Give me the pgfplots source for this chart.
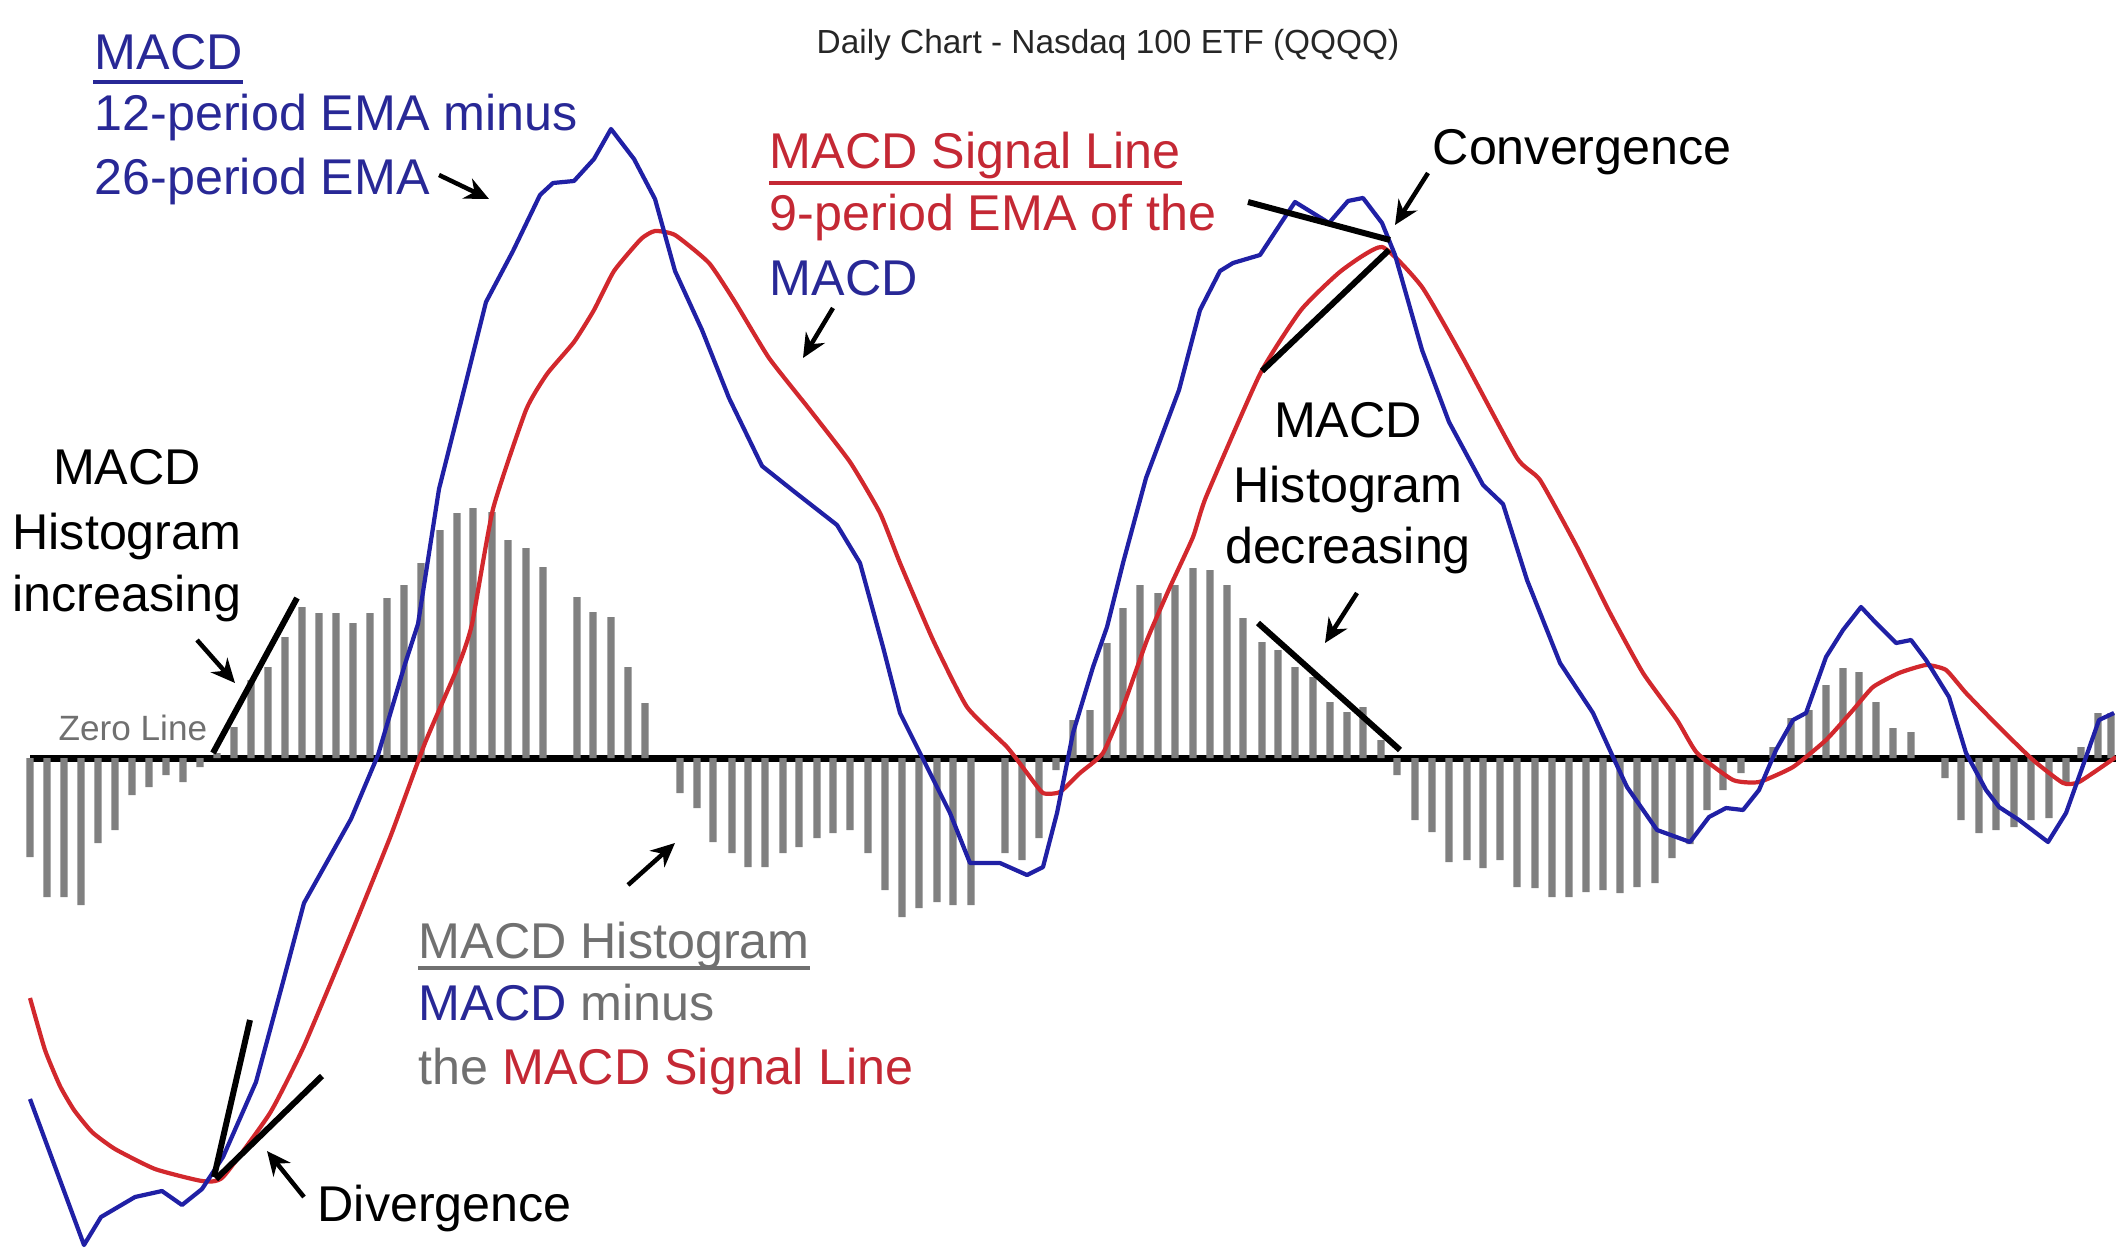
\documentclass[border=0pt]{standalone}
\usepackage{pgfplots}
\pgfplotsset{compat=1.18}
\usepackage{fontspec}
\setmainfont{Liberation Sans}
\setsansfont{Liberation Sans}
\usetikzlibrary{arrows.meta}
\definecolor{macdline}{RGB}{32,32,165}
\definecolor{sigline}{RGB}{210,40,45}
\definecolor{macdtext}{RGB}{40,40,150}
\definecolor{sigtext}{RGB}{196,40,52}
\definecolor{histtext}{RGB}{112,112,112}
\definecolor{barcol}{RGB}{128,128,128}
\newcommand\bigf{\fontsize{14.3}{17}\selectfont}
\begin{document}
\begin{tikzpicture}
\begin{axis}[width=21.16cm, height=12.48cm, scale only axis,
  xmin=0, xmax=2116, ymin=-490, ymax=758, hide axis, clip=false]
\coordinate (sw) at (axis cs:0,-490);
\coordinate (ne) at (axis cs:2116,758);
% zero line
\draw[black, line width=0.7mm] (axis cs:30,0) -- (axis cs:2116,0);
% histogram
\addplot[ybar, bar width=0.72mm, bar shift=0pt, fill=barcol, draw=none] coordinates {
(30,-99) (47,-139) (64,-139) (81,-147) (98,-85) (115,-72) (132,-37) (149,-29)
(166,-17) (183,-24) (200,-9) (217,5) (234,31) (251,78) (268,91) (285,121)
(302,151) (319,145) (336,145) (353,135) (370,145) (387,160) (404,173) (421,195)
(440,228) (457,245) (473,250) (492,246) (508,218) (526,210) (543,191)
(577,161) (593,146) (611,141) (628,91) (645,55)
(680,-35) (697,-50) (713,-84) (732,-95) (748,-109) (765,-109) (783,-95) (799,-89)
(817,-80) (833,-75) (850,-72) (868,-95) (885,-132) (902,-159) (919,-150) (937,-144)
(953,-147) (971,-147) (1005,-95) (1022,-102) (1039,-80) (1056,-12)
(1073,38) (1090,48) (1107,115) (1123,150) (1140,173) (1158,165) (1175,173) (1193,190)
(1210,188) (1227,173) (1243,140) (1262,116) (1278,108) (1295,91) (1313,81) (1330,56)
(1347,46) (1363,51) (1381,18)
(1397,-17) (1415,-62) (1432,-74) (1449,-104) (1467,-102) (1483,-110) (1500,-102)
(1517,-129) (1535,-130) (1552,-139) (1569,-139) (1586,-134) (1603,-132) (1620,-135)
(1637,-129) (1655,-125) (1672,-100) (1690,-86) (1707,-52) (1723,-32) (1741,-15)
(1773,11) (1791,40) (1809,48) (1826,73) (1843,90) (1859,86) (1876,56) (1893,30) (1911,26)
(1945,-20) (1961,-62) (1979,-75) (1996,-72) (2014,-69) (2031,-62) (2049,-60) (2066,-25)
(2081,11) (2098,45) (2111,45)
};
% signal line
\addplot[sigline, line width=1.2pt, line join=round, mark=none, smooth, tension=0.3] coordinates {
(30,-240) (45,-292) (60,-328) (74,-352) (92,-374) (115,-391) (155,-411) (202,-423) (223,-419) (270,-355) (304,-288)
(351,-176) (391,-77) (425,15) (459,94) (472,134) (493,249) (526,348) (547,384)
(574,416) (594,448) (614,487) (641,519) (655,527) (675,523) (709,495) (735,456)
(769,400) (810,348) (850,296) (880,245) (900,195) (933,118) (967,51) (1007,11)
(1027,-15) (1043,-35) (1060,-34) (1080,-15) (1103,5) (1123,51) (1147,118) (1170,171)
(1193,221) (1206,261) (1260,384) (1301,448) (1341,487) (1382,511) (1422,471) (1463,400)
(1517,300) (1540,278) (1577,211) (1610,145) (1643,85) (1677,38) (1697,5) (1733,-22)
(1759,-24) (1793,-9) (1826,18) (1853,48) (1873,71) (1899,85) (1926,93) (1946,88)
(1966,65) (1999,31) (2033,-2) (2063,-25) (2079,-24) (2116,1)
};
% MACD line
\addplot[macdline, line width=1.2pt, line join=round, mark=none] coordinates {
(30,-341) (84,-487) (101,-459) (135,-439) (162,-433) (182,-447) (202,-431) (223,-399)
(256,-324) (283,-224) (304,-145) (351,-61) (378,3) (405,94) (418,134) (439,269)
(466,376) (486,456) (513,507) (540,563) (553,575) (574,577) (594,599) (611,629)
(634,599) (655,559) (675,487) (702,428) (729,360) (762,292) (796,265) (837,233)
(860,195) (883,111) (900,45) (927,-9) (950,-55) (970,-105) (1000,-105) (1027,-117)
(1043,-109) (1057,-55) (1073,25) (1093,91) (1107,131) (1123,195) (1146,280) (1179,368)
(1200,448) (1220,487) (1233,495) (1260,503) (1281,535) (1295,556) (1329,535) (1348,557)
(1363,560) (1382,535) (1395,503) (1422,408) (1449,336) (1483,273) (1503,254) (1527,178)
(1560,95) (1593,45) (1613,1) (1627,-29) (1657,-72) (1690,-84) (1709,-59) (1726,-50)
(1743,-52) (1759,-32) (1776,8) (1793,38) (1806,45) (1826,101) (1843,128) (1861,151)
(1876,135) (1896,115) (1911,118) (1926,98) (1949,61) (1966,5) (1986,-32) (1999,-49)
(2019,-62) (2048,-84) (2066,-55) (2086,1) (2099,38) (2114,45)
};
% tangent lines
\draw[black, line width=0.6mm] (axis cs:213,5) -- (axis cs:297,160);
\draw[black, line width=0.6mm] (axis cs:1258,135) -- (axis cs:1400,8);
\draw[black, line width=0.6mm] (axis cs:1248,556) -- (axis cs:1390,518);
\draw[black, line width=0.6mm] (axis cs:1262,387) -- (axis cs:1389,508);
\draw[black, line width=0.6mm] (axis cs:250,-262) -- (axis cs:214,-419);
\draw[black, line width=0.6mm] (axis cs:322,-318) -- (axis cs:216,-421);
% arrows
\tikzset{ann/.style={black, line width=0.45mm, -{Stealth[length=2.4mm, width=2.2mm]}}}
\draw[ann] (axis cs:439,583) -- (axis cs:489,559);
\draw[ann] (axis cs:833,450) -- (axis cs:803,400);
\draw[ann] (axis cs:1428,585) -- (axis cs:1395,533);
\draw[ann] (axis cs:1357,165) -- (axis cs:1325,115);
\draw[ann] (axis cs:197,118) -- (axis cs:235,75);
\draw[ann] (axis cs:628,-127) -- (axis cs:675,-85);
\draw[ann] (axis cs:304,-439) -- (axis cs:267,-393);
% texts
\node[anchor=base west, inner sep=0pt, font=\fontsize{9.5}{11}\selectfont, text=black!85] at (axis cs:816,704) {Daily Chart - Nasdaq 100 ETF (QQQQ)};
\node[anchor=base west, inner sep=0pt, font=\bigf, text=macdtext] at (axis cs:94,688) {MACD};
\draw[macdtext, line width=0.4mm] (axis cs:93,676) -- (axis cs:243,676);
\node[anchor=base west, inner sep=0pt, font=\bigf, text=macdtext] at (axis cs:94,627) {12-period EMA minus};
\node[anchor=base west, inner sep=0pt, font=\bigf, text=macdtext] at (axis cs:94,563) {26-period EMA};
\node[anchor=base west, inner sep=0pt, font=\bigf, text=sigtext] at (axis cs:769,589) {MACD Signal Line};
\draw[sigtext, line width=0.4mm] (axis cs:769,575) -- (axis cs:1182,575);
\node[anchor=base west, inner sep=0pt, font=\bigf, text=sigtext] at (axis cs:769,527) {9-period EMA of the};
\node[anchor=base west, inner sep=0pt, font=\bigf, text=macdtext] at (axis cs:769,462) {MACD};
\node[anchor=base west, inner sep=0pt, font=\bigf] at (axis cs:1432,593) {Convergence};
\node[anchor=base, inner sep=0pt, font=\bigf] at (axis cs:1348,320) {MACD};
\node[anchor=base, inner sep=0pt, font=\bigf] at (axis cs:1348,256) {Histogram};
\node[anchor=base, inner sep=0pt, font=\bigf] at (axis cs:1348,195) {decreasing};
\node[anchor=base, inner sep=0pt, font=\bigf] at (axis cs:127,273) {MACD};
\node[anchor=base, inner sep=0pt, font=\bigf] at (axis cs:127,209) {Histogram};
\node[anchor=base, inner sep=0pt, font=\bigf] at (axis cs:127,147) {increasing};
\node[anchor=base west, inner sep=0pt, font=\fontsize{10}{12}\selectfont, text=histtext] at (axis cs:58,18) {Zero Line};
\node[anchor=base west, inner sep=0pt, font=\bigf, text=histtext] at (axis cs:418,-200) {MACD Histogram};
\draw[histtext, line width=0.4mm] (axis cs:418,-210) -- (axis cs:810,-210);
\node[anchor=base west, inner sep=0pt, font=\bigf] at (axis cs:418,-262) {\textcolor{macdtext}{MACD} \textcolor{histtext}{minus}};
\node[anchor=base west, inner sep=0pt, font=\bigf] at (axis cs:418,-326) {\textcolor{histtext}{the} \textcolor{sigtext}{MACD Signal Line}};
\node[anchor=base west, inner sep=0pt, font=\bigf] at (axis cs:317,-463) {Divergence};
\end{axis}
\pgfresetboundingbox
\path (sw) rectangle (ne);
\end{tikzpicture}
\end{document}
